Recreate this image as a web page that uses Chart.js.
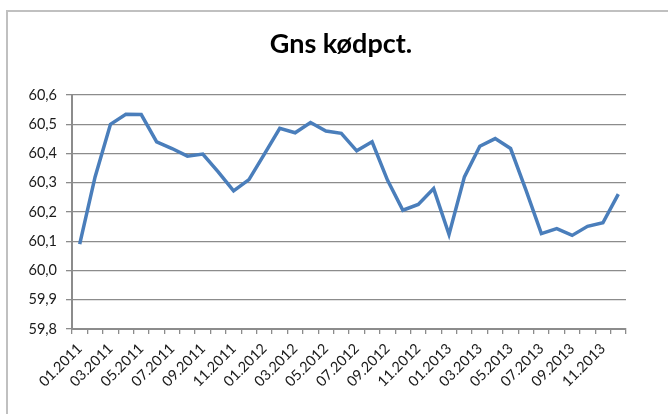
<!DOCTYPE html>
<html>
<head>
<meta charset="utf-8">
<script src="https://cdn.jsdelivr.net/npm/chart.js@4"></script>
<style>
    body { margin: 0; background: #fff; overflow: hidden; }
    #frame { position: absolute; left: 6px; top: 10px; width: 700px; height: 500px; border: 2px solid #c0c0c0; }
    #kodChart { position: absolute; left: 0; top: 0; }
</style>
</head>
<body>
<div id="frame"></div>
<canvas id="kodChart" width="668" height="414"></canvas>
<script>
// months on the x axis
const months = [
    '01.2011', '02.2011', '03.2011', '04.2011', '05.2011', '06.2011',
    '07.2011', '08.2011', '09.2011', '10.2011', '11.2011', '12.2011',
    '01.2012', '02.2012', '03.2012', '04.2012', '05.2012', '06.2012',
    '07.2012', '08.2012', '09.2012', '10.2012', '11.2012', '12.2012',
    '01.2013', '02.2013', '03.2013', '04.2013', '05.2013', '06.2013',
    '07.2013', '08.2013', '09.2013', '10.2013', '11.2013', '12.2013'
];

// average meat percentage
const kodpct = [
    60.09, 60.32, 60.50, 60.534, 60.533, 60.44,
    60.417, 60.391, 60.398, 60.337, 60.272, 60.311,
    60.398, 60.486, 60.471, 60.506, 60.477, 60.469,
    60.409, 60.44, 60.309, 60.206, 60.226, 60.28,
    60.123, 60.32, 60.425, 60.451, 60.417, 60.275,
    60.126, 60.143, 60.12, 60.151, 60.163, 60.261
];

const yMin = 59.8;
const yMax = 60.6;
const yStep = 0.1;

const fontName = 'Lato, "Open Sans", sans-serif';

// title sits centred on the whole frame, not on the plot area
const centreTitle = {
    id: 'centreTitle',
    afterLayout: function(chart) {
        if (chart.titleBlock) {
            chart.titleBlock.left = 14;
            chart.titleBlock.right = 668;
        }
    }
};

var kodConfig =
{
    type: 'line',
    data: {
        labels: months,
        datasets: [{
            label: 'Gns kødpct.',
            data: kodpct,
            borderColor: '#4a7ebb',
            borderWidth: 3.5,
            pointRadius: 0,
            tension: 0,
            fill: false
        }]
    },
    options: {
        responsive: false,
        animation: false,
        devicePixelRatio: 1,
        layout: {
            padding: { left: 0, right: 42, top: 0, bottom: 0 }
        },
        plugins: {
            legend: {
                display: false
            },
            tooltip: {
                enabled: false
            },
            title: {
                display: true,
                text: 'Gns kødpct.',
                color: '#000',
                font: { family: fontName, size: 27, weight: 'bold' },
                padding: { top: 28, bottom: 34.6 }
            }
        },
        scales: {
            y: {
                min: yMin,
                max: yMax,
                afterFit: function(scale) {
                    scale.width = 72;
                },
                ticks: {
                    stepSize: yStep,
                    padding: 9,
                    color: '#1a1a1a',
                    font: { family: fontName, size: 14.5 },
                    callback: function(value) {
                        return value.toFixed(1).replace('.', ',');
                    }
                },
                grid: {
                    color: '#8c8c8c',
                    lineWidth: 1.3,
                    tickLength: 6
                },
                border: {
                    color: '#8c8c8c',
                    width: 2
                }
            },
            x: {
                offset: true,
                afterFit: function(scale) {
                    scale.height = 85;
                },
                ticks: {
                    autoSkip: false,
                    maxRotation: 45,
                    minRotation: 45,
                    padding: 6,
                    color: '#1a1a1a',
                    font: { family: fontName, size: 14.5 },
                    callback: function(value, index) {
                        return index % 2 === 0 ? this.getLabelForValue(value) : '';
                    }
                },
                grid: {
                    offset: true,
                    drawOnChartArea: false,
                    color: '#8c8c8c',
                    lineWidth: 1.3,
                    tickLength: 5
                },
                border: {
                    color: '#8c8c8c',
                    width: 2
                }
            }
        }
    },
    plugins: [centreTitle]
}

const kodCtx = document.getElementById('kodChart');
const kodChart = new Chart(kodCtx, kodConfig);
</script>
</body>
</html>
